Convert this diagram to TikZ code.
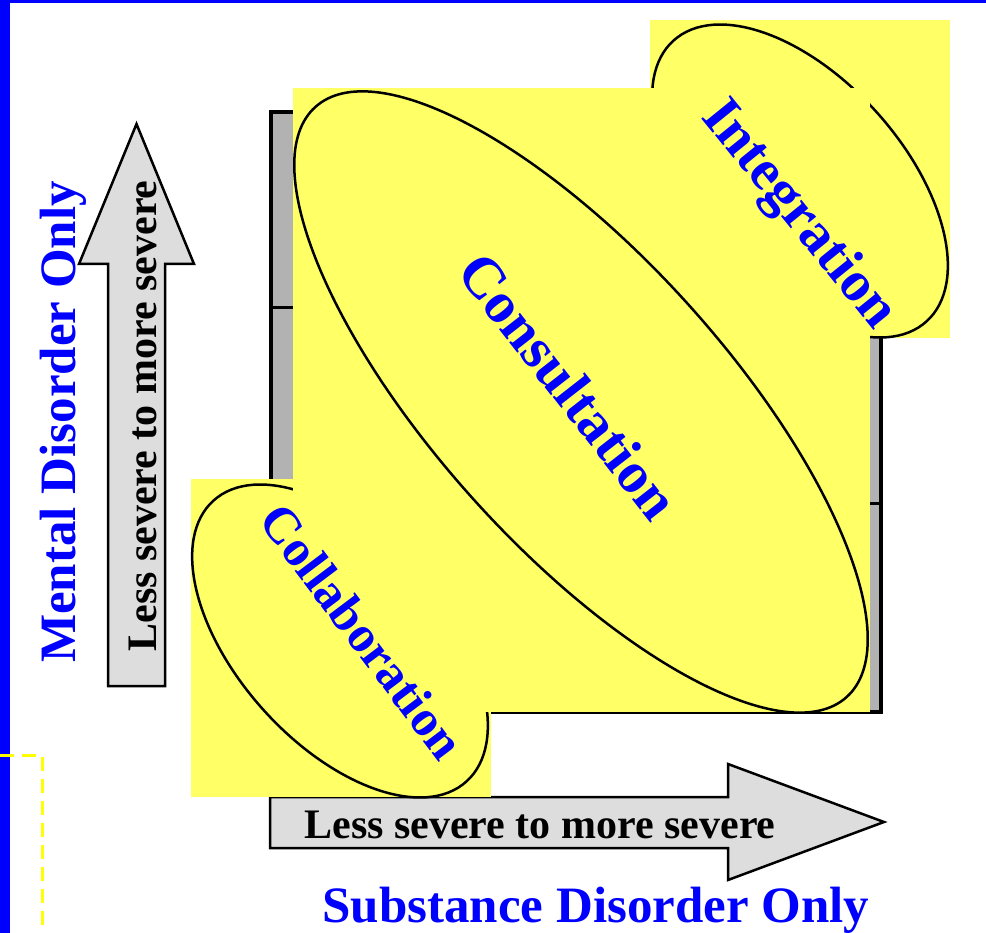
\documentclass[tikz,border=0pt]{standalone}
\usepackage{fontspec}
\setmainfont{Liberation Serif}
\usetikzlibrary{shapes.geometric}
\definecolor{myblue}{RGB}{0,0,255}
\definecolor{pyellow}{RGB}{255,255,102}
\definecolor{gridgray}{RGB}{178,178,178}
\definecolor{arrgray}{RGB}{221,221,221}
\definecolor{dashyellow}{RGB}{255,255,0}
\tikzset{
  yrect/.style={fill=pyellow},
  blob/.style={ellipse, draw=black, line width=2.5pt, fill=pyellow, inner sep=0pt},
  bigarr/.style={draw=black, line width=2.5pt, fill=arrgray, line join=miter},
  axislbl/.style={text=myblue, font=\bfseries\fontsize{51}{51}\selectfont, inner sep=0pt, anchor=base},
  arrlbl/.style={text=black, font=\bfseries\fontsize{42}{42}\selectfont, inner sep=0pt, anchor=base},
  zonelbl/.style={text=myblue, inner sep=0pt, text height=0.68em, text depth=0pt}
}
\begin{document}
\begin{tikzpicture}[x=1pt,y=-1pt]
\useasboundingbox (0,0) rectangle (986,933);
% blue frame
\fill[myblue] (0,0) rectangle (986,3);
\fill[myblue] (0,0) rectangle (10,933);
% yellow dashed line
\draw[dashyellow, line width=3pt, dash pattern=on 14pt off 8pt] (0,755) -- (42,755) -- (42,933);
% vertical arrow
\draw[bigarr] (108,686) -- (108,264) -- (79,264) -- (136.5,124) -- (194,264) -- (165,264) -- (165,686) -- cycle;
\node[arrlbl, rotate=90] (vtxt) at (156,416) {Less severe to more severe};
\node[axislbl, rotate=90] (mental) at (75,422) {Mental Disorder Only};
% grid
\draw[fill=gridgray, draw=black, line width=4.5pt] (271,112) rectangle (881,712);
\draw[line width=3pt] (271,308) -- (881,308);
\draw[line width=3pt] (271,503) -- (881,503);
% horizontal arrow
\draw[bigarr] (270,797) -- (728,797) -- (728,764) -- (884,822) -- (728,880) -- (728,848) -- (270,848) -- cycle;
\node[arrlbl] (htxt) at (540,838) {Less severe to more severe};
\node[axislbl] (subst) at (596,922) {Substance Disorder Only};
% integration
\fill[yrect] (650,20) rectangle (950,338);
\node[blob, minimum width=378pt, minimum height=206pt, rotate=-48] (intE) at (800,181) {};
% collaboration
\fill[yrect] (191,479) rectangle (491,797);
\node[blob, minimum width=378pt, minimum height=206pt, rotate=-48] (colE) at (340,641) {};
% consultation
\fill[yrect] (293,88) rectangle (870,712);
\node[blob, minimum width=794pt, minimum height=290pt, rotate=-48] (conE) at (581,402) {};
% zone labels
\node[zonelbl, font=\bfseries\fontsize{58}{58}\selectfont, rotate=-52] (conT) at (556,396) {Consultation};
\node[zonelbl, font=\bfseries\fontsize{57}{57}\selectfont, rotate=-51] (intT) at (790,222) {Integration};
\node[zonelbl, font=\bfseries\fontsize{51}{51}\selectfont, rotate=-53] (colT) at (351,640) {Collaboration};
\end{tikzpicture}
\end{document}
